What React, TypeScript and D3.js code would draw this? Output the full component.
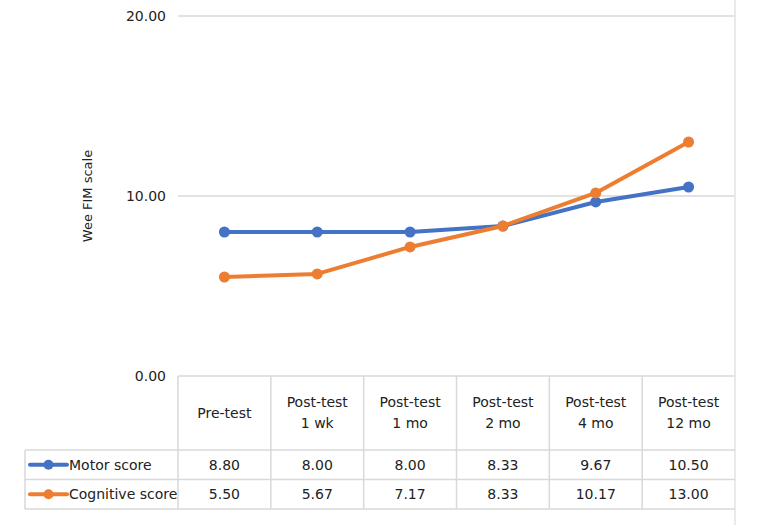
import * as d3 from "d3";

const categories = [
  ["Pre-test"],
  ["Post-test", "1 wk"],
  ["Post-test", "1 mo"],
  ["Post-test", "2 mo"],
  ["Post-test", "4 mo"],
  ["Post-test", "12 mo"],
];
// plotted positions
const motorScore = [8.0, 8.0, 8.0, 8.33, 9.67, 10.5];
const cognitiveScore = [5.5, 5.67, 7.17, 8.33, 10.17, 13.0];
// values printed in the data table
const motorLabels = ["8.80", "8.00", "8.00", "8.33", "9.67", "10.50"];
const cognitiveLabels = ["5.50", "5.67", "7.17", "8.33", "10.17", "13.00"];
const yTicks = [0, 10, 20];

const series = [
  { name: "Motor score", values: motorScore, labels: motorLabels, color: "#4472C4" },
  { name: "Cognitive score", values: cognitiveScore, labels: cognitiveLabels, color: "#ED7D31" },
];

const width = 757;
const height = 525;
const plotLeft = 178;
const plotRight = 735;
const plotTop = 16;
const plotBottom = 376;
const headerBottom = 450;
const rowH = 29.5;
const legendLeft = 25;
const font = "'DejaVu Sans', Verdana, sans-serif";
const gridColor = "#d9d9d9";

export default function App() {
  const x = d3
    .scaleBand<number>()
    .domain(d3.range(categories.length))
    .range([plotLeft, plotRight]);
  const y = d3.scaleLinear().domain([0, 20]).range([plotBottom, plotTop]);
  const line = d3
    .line<number>()
    .x((_, i) => x(i)! + x.bandwidth() / 2)
    .y((d) => y(d));

  const tableBottom = headerBottom + rowH * series.length;

  return (
    <svg
      width={width}
      height={height}
      style={{ position: "absolute", left: 0, top: 0, background: "#fff" }}
      fontFamily={font}
    >
      {/* gridlines + y labels */}
      {yTicks.map((t) => (
        <g key={t}>
          <line x1={plotLeft} x2={plotRight} y1={y(t)} y2={y(t)} stroke={gridColor} strokeWidth={1.5} />
          <text x={166} y={y(t)} dy="0.35em" textAnchor="end" fontSize={14} fill="#222">
            {d3.format(".2f")(t)}
          </text>
        </g>
      ))}
      <text
        transform={`translate(92, ${y(10)}) rotate(-90)`}
        textAnchor="middle"
        fontSize={13}
        fill="#222"
      >
        Wee FIM scale
      </text>

      {/* right border */}
      <line x1={plotRight} x2={plotRight} y1={0} y2={height} stroke="#e3e3e3" strokeWidth={1.5} />

      {/* table grid */}
      {d3.range(categories.length).map((i) => (
        <line
          key={"v" + i}
          x1={x(i)}
          x2={x(i)}
          y1={plotBottom}
          y2={tableBottom}
          stroke={gridColor}
          strokeWidth={1.5}
        />
      ))}
      <line x1={legendLeft} x2={legendLeft} y1={headerBottom} y2={tableBottom} stroke={gridColor} strokeWidth={1.5} />
      {d3.range(series.length + 1).map((r) => (
        <line
          key={"h" + r}
          x1={legendLeft}
          x2={plotRight}
          y1={headerBottom + r * rowH}
          y2={headerBottom + r * rowH}
          stroke={gridColor}
          strokeWidth={1.5}
        />
      ))}

      {/* header */}
      {categories.map((c, i) => {
        const cx = x(i)! + x.bandwidth() / 2;
        const mid = (plotBottom + headerBottom) / 2;
        return (
          <text key={i} x={cx} textAnchor="middle" fontSize={14} fill="#222">
            {c.map((s, j) => (
              <tspan key={j} x={cx} y={mid + (j - (c.length - 1) / 2) * 21} dy="0.35em">
                {s}
              </tspan>
            ))}
          </text>
        );
      })}

      {/* rows */}
      {series.map((s, r) => {
        const cy = headerBottom + rowH * r + rowH / 2;
        return (
          <g key={s.name}>
            <line x1={30} x2={67} y1={cy} y2={cy} stroke={s.color} strokeWidth={4} strokeLinecap="round" />
            <circle cx={48.5} cy={cy} r={5} fill={s.color} />
            <text x={69} y={cy} dy="0.35em" fontSize={14} fill="#222">
              {s.name}
            </text>
            {s.labels.map((l, i) => (
              <text
                key={i}
                x={x(i)! + x.bandwidth() / 2}
                y={cy}
                dy="0.35em"
                textAnchor="middle"
                fontSize={14}
                fill="#222"
              >
                {l}
              </text>
            ))}
          </g>
        );
      })}

      {/* lines */}
      {series.map((s) => (
        <g key={"l" + s.name}>
          <path d={line(s.values)!} fill="none" stroke={s.color} strokeWidth={4} strokeLinejoin="round" />
          {s.values.map((v, i) => (
            <circle key={i} cx={x(i)! + x.bandwidth() / 2} cy={y(v)} r={5.5} fill={s.color} />
          ))}
        </g>
      ))}
    </svg>
  );
}
